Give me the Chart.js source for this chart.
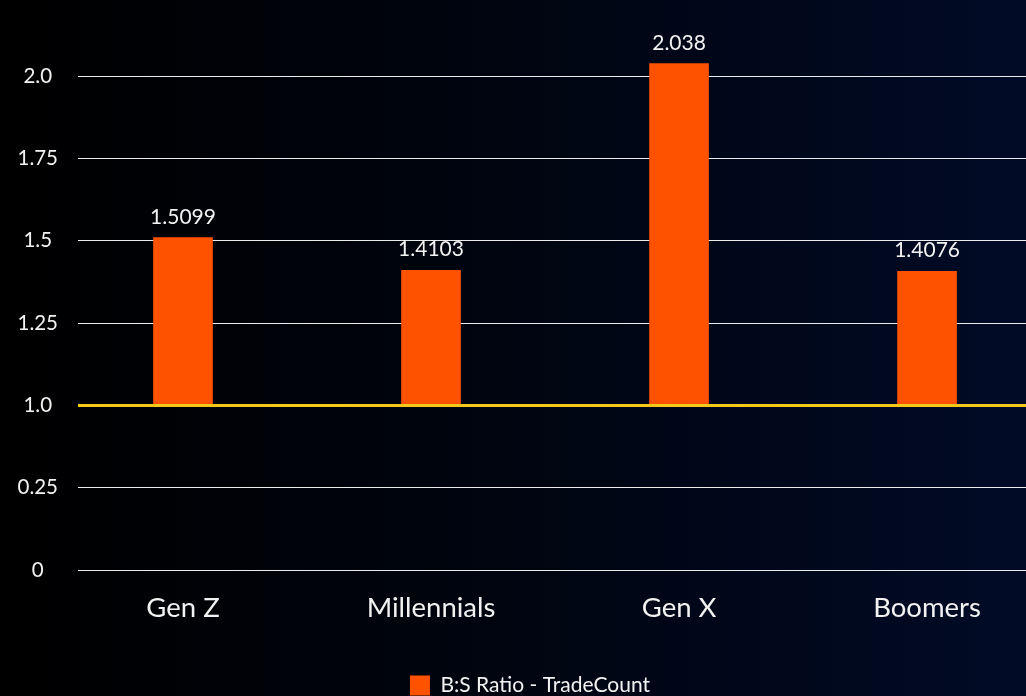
<!DOCTYPE html>
<html>
<head>
<meta charset="utf-8">
<script src="https://cdn.jsdelivr.net/npm/chart.js@4.4.1/dist/chart.umd.min.js"></script>
<style>
  html, body { margin: 0; padding: 0; overflow: hidden; width: 1026px; height: 696px; }
  body { background: linear-gradient(90deg, #000000 0%, #00040e 45%, #010b26 100%); }
  #wrap { width: 1060px; height: 706px; position: absolute; left: 0; top: 0; }
</style>
</head>
<body>
<div id="wrap"><canvas id="c" width="1060" height="706"></canvas></div>
<script>
const categories = ["Gen Z", "Millennials", "Gen X", "Boomers"];
const ratios = [1.5099, 1.4103, 2.038, 1.4076];
const seriesName = "B:S Ratio - TradeCount";
const baseline = 1.0;
// broken axis: evenly spaced tick positions and the labels shown at them
const yTickValues = [0.5, 0.75, 1.0, 1.25, 1.5, 1.75, 2.0];
const yTickLabels = ["0", "0.25", "1.0", "1.25", "1.5", "1.75", "2.0"];

const FONT = "Lato";
const barColor = "#ff5200";
const lineColor = "#f4c91a";

const baselinePlugin = {
  id: "baselinePlugin",
  afterDatasetsDraw(chart) {
    const { ctx, chartArea, scales } = chart;
    const y = scales.y.getPixelForValue(baseline);
    ctx.save();
    ctx.strokeStyle = lineColor;
    ctx.lineWidth = 3;
    ctx.beginPath();
    ctx.moveTo(chartArea.left, y);
    ctx.lineTo(chartArea.right, y);
    ctx.stroke();
    const meta = chart.getDatasetMeta(0);
    ctx.fillStyle = "#f2f2f2";
    ctx.font = "21px " + FONT;
    ctx.textAlign = "center";
    ctx.textBaseline = "alphabetic";
    meta.data.forEach((bar, i) => {
      ctx.fillText(String(ratios[i]), bar.x, bar.y - 14);
    });
    ctx.restore();
  }
};

new Chart(document.getElementById("c"), {
  type: "bar",
  data: {
    datasets: [{
      label: seriesName,
      data: ratios.map((v, i) => ({ x: i, y: [baseline, v] })),
      backgroundColor: barColor,
      borderWidth: 0,
      barThickness: 59
    }]
  },
  options: {
    responsive: false,
    animation: false,
    layout: { padding: { left: 0, right: 0, top: 15, bottom: 0 } },
    scales: {
      x: {
        type: "linear",
        offset: false,
        min: -0.4234,
        max: 3.536,
        grid: { display: false, drawTicks: false },
        border: { display: false },
        afterBuildTicks(scale) { scale.ticks = categories.map((c, i) => ({ value: i })); },
        afterFit(scale) { scale.height = 51; },
        ticks: {
          autoSkip: false,
          maxRotation: 0,
          padding: 22,
          color: "#f2f2f2",
          font: { family: FONT, size: 27.5 },
          callback: (v) => categories[v]
        }
      },
      y: {
        type: "linear",
        min: 0.5,
        max: 2.1333,
        afterBuildTicks(scale) { scale.ticks = yTickValues.map(v => ({ value: v })); },
        afterFit(scale) { scale.width = 78; },
        grid: { color: "rgba(255,255,255,0.92)", lineWidth: 1, drawTicks: false },
        border: { display: false },
        ticks: {
          padding: 20,
          crossAlign: "center",
          color: "#f2f2f2",
          font: { family: FONT, size: 20.5 },
          callback: (v) => {
            const k = yTickValues.indexOf(v);
            return k >= 0 ? yTickLabels[k] : "";
          }
        }
      }
    },
    plugins: {
      tooltip: { enabled: false },
      legend: {
        position: "bottom",
        labels: {
          color: "#f2f2f2",
          font: { family: FONT, size: 21 },
          boxWidth: 20,
          boxHeight: 20,
          padding: 54
        }
      }
    }
  },
  plugins: [baselinePlugin]
});
</script>
</body>
</html>
